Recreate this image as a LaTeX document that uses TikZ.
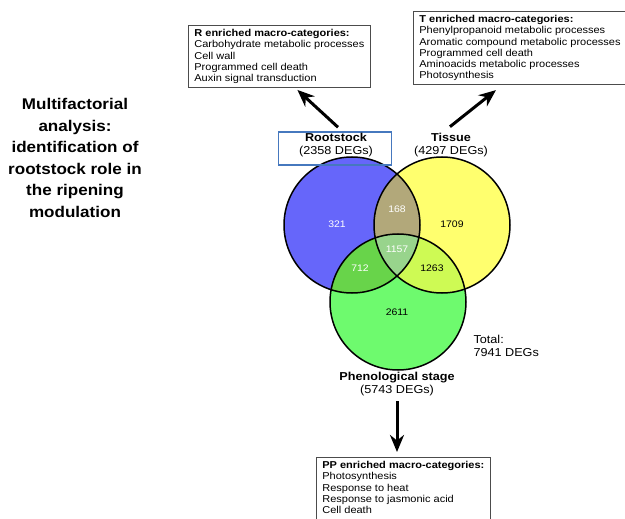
\documentclass[tikz,border=0pt]{standalone}
\usepackage{fontspec}
\setmainfont[FakeStretch=1.1]{Liberation Sans}
\usetikzlibrary{arrows.meta,positioning}

\definecolor{rootblue}{RGB}{102,102,250}
\definecolor{tissyellow}{RGB}{255,255,110}
\definecolor{phengreen}{RGB}{110,250,110}
\definecolor{rtmix}{RGB}{178,168,122}
\definecolor{rpmix}{RGB}{104,212,74}
\definecolor{tpmix}{RGB}{206,250,84}
\definecolor{allmix}{RGB}{152,212,140}
\definecolor{framebl}{RGB}{70,120,190}

\tikzset{
  catbox/.style={draw=black!70, line width=0.8pt, align=left, anchor=north west,
    inner xsep=6pt, inner ysep=4pt, font=\fontsize{10}{11.2}\selectfont},
  setlbl/.style={align=center, font=\fontsize{11.5}{12.8}\selectfont},
  cnt/.style={font=\fontsize{9.5}{10}\selectfont},
  bigarrow/.style={-{Stealth[length=17pt,width=14pt]}, line width=3pt},
}

\begin{document}
\begin{tikzpicture}[x=1pt,y=-1pt]
    \clip (0,0) rectangle (625,519);
    \fill[white] (0,0) rectangle (625,519);

    % Set centres
    \coordinate (cR) at (352,225);
    \coordinate (cT) at (442,225);
    \coordinate (cP) at (398,302);
    \def\rad{68}

    % Circle fills
    \fill[rootblue] (cR) circle (\rad);
    \fill[tissyellow] (cT) circle (\rad);
    \fill[phengreen] (cP) circle (\rad);

    % Overlaps
    \begin{scope}
        \clip (cR) circle (\rad);
        \fill[rtmix] (cT) circle (\rad);
        \fill[rpmix] (cP) circle (\rad);
        \clip (cT) circle (\rad);
        \fill[allmix] (cP) circle (\rad);
    \end{scope}
    \begin{scope}
        \clip (cT) circle (\rad);
        \clip (cP) circle (\rad);
        \fill[tpmix, even odd rule] (cP) circle (\rad) (cR) circle (\rad);
    \end{scope}

    % Outlines
    \foreach \c in {cR,cT,cP} {
        \draw[line width=1.5pt] (\c) circle (\rad);
    }

    % Counts
    \node[cnt, white] (n321) at (337,224) {321};
    \node[cnt, white] (n168) at (397,209) {168};
    \node[cnt] (n1709) at (452,224) {1709};
    \node[cnt, white] (n1157) at (397,249) {1157};
    \node[cnt, white] (n712) at (360,268) {712};
    \node[cnt] (n1263) at (432,268) {1263};
    \node[cnt] (n2611) at (397,312) {2611};

    % Set labels
    \node[draw=framebl, line width=1.5pt, minimum width=113pt, minimum height=33pt,
          inner sep=0pt] (rootframe) at (335,148.5) {};
    \node[setlbl] (rootlbl) at (336,145) {\textbf{Rootstock}\\(2358 DEGs)};
    \node[setlbl] (tisslbl) at (451,145) {\textbf{Tissue}\\(4297 DEGs)};
    \node[setlbl] (phenlbl) at (397,384) {\textbf{Phenological stage}\\(5743 DEGs)};
    \node[setlbl, align=left, anchor=west] (totlbl) at (470,346) {Total:\\7941 DEGs};

    % Category boxes
    \node[catbox] (rbox) at (188,25)
        {\textbf{R enriched macro-categories:}\\
         Carbohydrate metabolic processes\\
         Cell wall\\
         Programmed cell death\\
         Auxin signal transduction};
    \node[catbox] (tbox) at (413,11)
        {\textbf{T enriched macro-categories:}\\
         Phenylpropanoid metabolic processes\\
         Aromatic compound metabolic processes\\
         Programmed cell death\\
         Aminoacids metabolic processes\\
         Photosynthesis};
    \node[catbox] (ppbox) at (316,457)
        {\textbf{PP enriched macro-categories:}\\
         Photosynthesis\\
         Response to heat\\
         Response to jasmonic acid\\
         Cell death\\
         \mbox{}};

    % Arrows
    \draw[bigarrow] ([xshift=3pt,yshift=4pt]rootframe.north) -- ([xshift=18pt,yshift=-2pt]rbox.south);
    \draw[bigarrow] ([xshift=-1pt,yshift=3pt]tisslbl.north) -- ([xshift=-24pt,yshift=-5pt]tbox.south);
    \draw[bigarrow, shorten >=5pt] ([yshift=-2pt]phenlbl.south) -- (phenlbl.south |- ppbox.north);

    % Side title
    \node[align=center, font=\bfseries\fontsize{15.5}{21.6}\selectfont] (title) at (75,158)
        {Multifactorial\\analysis:\\identification of\\rootstock role in\\the ripening\\modulation};
\end{tikzpicture}
\end{document}
